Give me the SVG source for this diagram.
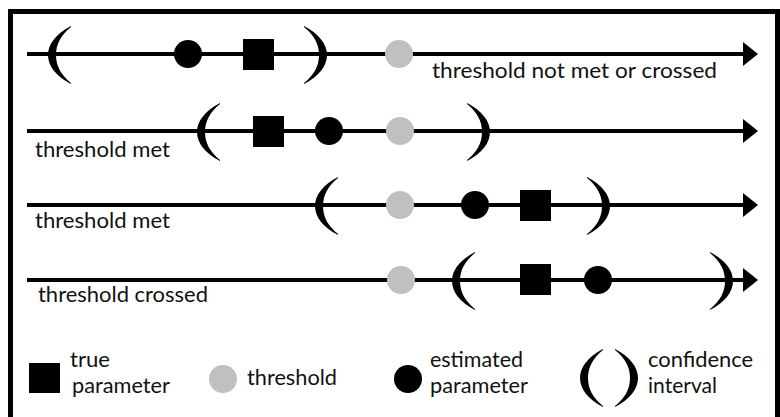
<svg xmlns="http://www.w3.org/2000/svg" xmlns:xlink="http://www.w3.org/1999/xlink" width="780" height="417" viewBox="0 0 780 417">
<style>
.ln{stroke:#000;stroke-width:4;fill:none}
.est{fill:#000}
.thr{fill:#c0c0c0}
.tru{fill:#000}
.par{fill:#000}
text{font-family:Lato,"Open Sans","Liberation Sans",sans-serif;font-size:21px;font-weight:400;fill:#111}
</style>
<defs>
<marker id="arr" markerUnits="userSpaceOnUse" viewBox="0 0 15 24" refX="1" refY="12" markerWidth="15" markerHeight="24" orient="auto">
<path d="M0,0 L15,12 L0,24 Z" fill="#000"/>
</marker>
<path id="lp" d="M 9,-29 C -6,-21 -14,-11 -14,0 C -14,11 -6,21 9,29 L 9,28 C -1,20 -6,11 -6,0 C -6,-11 -1,-20 9,-28 Z"/>
</defs>
<rect x="10.5" y="11.5" width="767" height="430" fill="#fff" stroke="#000" stroke-width="5"/>
<g id="connectors">
<line class="ln" x1="27" y1="54" x2="744" y2="54" marker-end="url(#arr)"/>
<line class="ln" x1="27" y1="131" x2="744" y2="131" marker-end="url(#arr)"/>
<line class="ln" x1="27" y1="205" x2="744" y2="205" marker-end="url(#arr)"/>
<line class="ln" x1="27" y1="280" x2="744" y2="280" marker-end="url(#arr)"/>
</g>
<g id="row1">
<use href="#lp" class="par" transform="translate(62,55)"/>
<circle class="est" cx="188" cy="54" r="14"/>
<rect class="tru" x="243" y="39" width="31" height="31"/>
<use href="#lp" class="par" transform="translate(313,55) scale(-1,1)"/>
<circle class="thr" cx="399" cy="54" r="14"/>
<text x="432" y="78" textLength="285" lengthAdjust="spacingAndGlyphs">threshold not met or crossed</text>
</g>
<g id="row2">
<use href="#lp" class="par" transform="translate(211,132)"/>
<rect class="tru" x="253" y="116" width="31" height="31"/>
<circle class="est" cx="329" cy="131" r="14"/>
<circle class="thr" cx="400" cy="131" r="14"/>
<use href="#lp" class="par" transform="translate(476,132) scale(-1,1)"/>
<text x="35" y="157" textLength="135" lengthAdjust="spacingAndGlyphs">threshold met</text>
</g>
<g id="row3">
<use href="#lp" class="par" transform="translate(329,206)"/>
<circle class="thr" cx="400" cy="205" r="14"/>
<circle class="est" cx="475" cy="205" r="14"/>
<rect class="tru" x="520" y="190" width="31" height="31"/>
<use href="#lp" class="par" transform="translate(596,206) scale(-1,1)"/>
<text x="35" y="228" textLength="135" lengthAdjust="spacingAndGlyphs">threshold met</text>
</g>
<g id="row4">
<circle class="thr" cx="401" cy="280" r="14"/>
<use href="#lp" class="par" transform="translate(466,281)"/>
<rect class="tru" x="520" y="264" width="31" height="31"/>
<circle class="est" cx="598" cy="280" r="14"/>
<use href="#lp" class="par" transform="translate(719,281) scale(-1,1)"/>
<text x="38" y="302" textLength="170" lengthAdjust="spacingAndGlyphs">threshold crossed</text>
</g>
<g id="legend-true">
<rect class="tru" x="29" y="363" width="31" height="30"/>
<text x="70" y="367" textLength="40" lengthAdjust="spacingAndGlyphs">true</text>
<text x="72" y="393" textLength="98" lengthAdjust="spacingAndGlyphs">parameter</text>
</g>
<g id="legend-threshold">
<circle class="thr" cx="223" cy="379" r="14"/>
<text x="247" y="385" textLength="90" lengthAdjust="spacingAndGlyphs">threshold</text>
</g>
<g id="legend-estimated">
<circle class="est" cx="408" cy="379" r="14"/>
<text x="430" y="367" textLength="93" lengthAdjust="spacingAndGlyphs">estimated</text>
<text x="430" y="393" textLength="98" lengthAdjust="spacingAndGlyphs">parameter</text>
</g>
<g id="legend-ci">
<use href="#lp" class="par" transform="translate(594,378)"/>
<use href="#lp" class="par" transform="translate(624,378) scale(-1,1)"/>
<text x="648" y="367" textLength="105" lengthAdjust="spacingAndGlyphs">confidence</text>
<text x="648" y="393" textLength="69" lengthAdjust="spacingAndGlyphs">interval</text>
</g>
</svg>
